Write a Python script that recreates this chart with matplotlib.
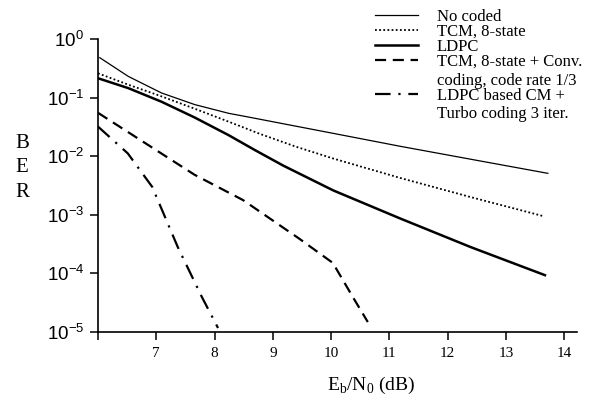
import matplotlib
matplotlib.use("Agg")
import matplotlib.pyplot as plt
from matplotlib.lines import Line2D

# ---- data ----
snr_uncoded = [6.03, 6.52, 7.09, 7.66, 8.24, 8.61, 10.04, 11.18, 12.5, 13.72]
ber_uncoded = [0.48, 0.23, 0.12, 0.076, 0.054, 0.046, 0.0245, 0.0148, 0.0085, 0.0051]

snr_tcm = [6.0, 6.52, 7.09, 7.66, 8.24, 8.78, 9.4, 10.04, 11.18, 12.4, 13.64]
ber_tcm = [0.26, 0.166, 0.105, 0.0646, 0.0389, 0.024, 0.0145, 0.0091, 0.00427, 0.0020, 0.00095]

snr_ldpc = [6.0, 6.52, 7.09, 7.66, 8.24, 8.7, 9.18, 10.04, 11.18, 12.4, 13.67]
ber_ldpc = [0.214, 0.145, 0.085, 0.0457, 0.0229, 0.0126, 0.0069, 0.0026, 0.00087, 0.00028, 0.0000933]

snr_tcm_conv = [6.0, 7.66, 8.49, 9.44, 10.03, 10.37, 10.63]
ber_tcm_conv = [0.055, 0.0048, 0.00178, 0.0004, 0.000151, 0.00004, 0.0000148]

snr_ldpc_turbo = [6.0, 6.51, 6.93, 7.37, 7.78, 8.06]
ber_ldpc_turbo = [0.032, 0.0112, 0.0030, 0.00028, 0.00004, 0.0000117]

labels = ["No coded", "TCM, 8-state", "LDPC", "TCM, 8-state + Conv.",
          "coding, code rate 1/3", "LDPC based CM +", "Turbo coding 3 iter."]

xticks = [6, 7, 8, 9, 10, 11, 12, 13, 14]
xticklabels = ["", "7", "8", "9", "10", "11", "12", "13", "14"]
yticks = [1e-5, 1e-4, 1e-3, 1e-2, 1e-1, 1e0]
yticklabels = [r"$10^{-5}$", r"$10^{-4}$", r"$10^{-3}$", r"$10^{-2}$", r"$10^{-1}$", r"$10^{0}$"]

# ---- figure ----
plt.rcParams['mathtext.fontset'] = 'custom'
plt.rcParams['mathtext.rm'] = 'Liberation Sans'
plt.rcParams['mathtext.it'] = 'Liberation Sans:italic'

W, H = 592, 403
fig = plt.figure(figsize=(W/100, H/100), dpi=100)
ax = fig.add_axes([98/W, 1-332/H, (577-98)/W, (332-39)/H])

styles = [
    dict(color='black', lw=0.9, ls='-'),
    dict(color='black', lw=1.3, ls=(0, (1, 1.3))),
    dict(color='black', lw=1.8, ls='-'),
    dict(color='black', lw=1.6, ls=(0, (5, 3))),
    dict(color='black', lw=1.6, ls=(0, (7, 3.5, 1, 3.5))),
]
series = [(snr_uncoded, ber_uncoded), (snr_tcm, ber_tcm), (snr_ldpc, ber_ldpc),
          (snr_tcm_conv, ber_tcm_conv), (snr_ldpc_turbo, ber_ldpc_turbo)]
for (xs, ys), st in zip(series, styles):
    ax.plot(xs, ys, **st)

ax.set_yscale('log')
ax.set_xlim(6, 14.22)
ax.set_ylim(1e-5, 1)
ax.set_xticks(xticks)
ax.set_xticklabels(xticklabels, family='Liberation Serif', fontsize=11)
ax.set_yticks(yticks)
ax.set_yticklabels(yticklabels, family='Liberation Sans', fontsize=13.5)
ax.minorticks_off()
ax.tick_params(axis='both', direction='out', length=6, width=1.1, color='black')
ax.tick_params(axis='x', pad=5)
ax.tick_params(axis='y', pad=4)
for s in ['top', 'right']:
    ax.spines[s].set_visible(False)
for s in ['left', 'bottom']:
    ax.spines[s].set_linewidth(1.2)

fig.text(371/W, 1-385/H, r"E$_\mathregular{b}$/N$_\mathregular{0}$ (dB)",
         family='Liberation Serif', fontsize=14, ha='center', va='center')
for ch, yy in zip("BER", [143, 168, 192]):
    fig.text(22/W, 1-yy/H, ch, family='Liberation Serif', fontsize=15, ha='center', va='center')

# ---- legend (manual, to keep wrapped labels aligned like the reference) ----
row_y = [15, 30, 45, 60, 79, 94, 112]
handle_idx = [0, 1, 2, 3, None, 4, None]
for lab, yy, hi in zip(labels, row_y, handle_idx):
    if hi is not None:
        fig.add_artist(Line2D([375/W, 418/W], [1-yy/H, 1-yy/H], transform=fig.transFigure,
                              **styles[hi]))
    fig.text(437/W, 1-yy/H, lab, family='Liberation Serif', fontsize=12,
             ha='left', va='center_baseline')

fig.savefig("out.png", dpi=100)
